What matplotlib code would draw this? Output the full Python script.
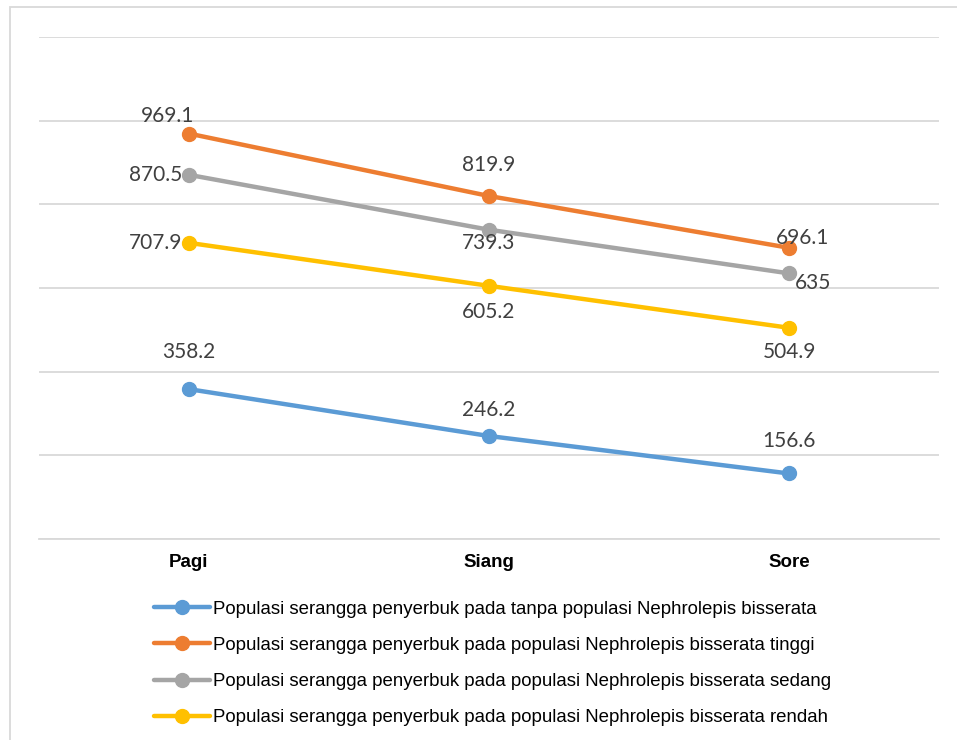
import matplotlib.pyplot as plt
from matplotlib.patches import Rectangle

# Waktu pengamatan
waktu = ['Pagi', 'Siang', 'Sore']

# Populasi serangga penyerbuk untuk tiap kondisi Nephrolepis bisserata
tanpa = [358.2, 246.2, 156.6]
tinggi = [969.1, 819.9, 696.1]
sedang = [870.5, 739.3, 635]
rendah = [707.9, 605.2, 504.9]

labels = [
    'Populasi serangga penyerbuk pada tanpa populasi Nephrolepis bisserata',
    'Populasi serangga penyerbuk pada populasi Nephrolepis bisserata tinggi',
    'Populasi serangga penyerbuk pada populasi Nephrolepis bisserata sedang',
    'Populasi serangga penyerbuk pada populasi Nephrolepis bisserata rendah',
]
warna = ['#5B9BD5', '#ED7D31', '#A5A5A5', '#FFC000']

# posisi label nilai (dx, dy dalam piksel, perataan horizontal)
posisi_label = [
    [(0, 37, 'center'), (0, 26, 'center'), (0, 32, 'center')],
    [(-21, 18, 'center'), (0, 31, 'center'), (14, 10, 'center')],
    [(-7, 0, 'right'), (0, -13, 'center'), (24, -10, 'center')],
    [(-7, 0, 'right'), (0, -26, 'center'), (0, -24, 'center')],
]

fig = plt.figure(figsize=(9.57, 7.4), dpi=100)
ax = fig.add_axes([39 / 957, 1 - 539 / 740, 900 / 957, 502 / 740])

x = range(len(waktu))
for data, lab, c, pos in zip([tanpa, tinggi, sedang, rendah], labels, warna, posisi_label):
    ax.plot(x, data, color=c, lw=3.2, marker='o', ms=10, label=lab,
            solid_capstyle='round', zorder=3)
    for xi, yi, (dx, dy, ha) in zip(x, data, pos):
        ax.annotate(f'{yi:g}', (xi, yi), xytext=(dx, dy), textcoords='offset pixels',
                    ha=ha, va='center', fontsize=15, color='#404040',
                    family=['Lato', 'DejaVu Sans'], zorder=4)

ax.set_xlim(-0.5, 2.5)
ax.set_ylim(0, 1200)
ax.set_yticks(range(0, 1201, 200))
ax.set_yticklabels([])
ax.tick_params(axis='y', length=0)
ax.tick_params(axis='x', length=0, pad=11)
ax.set_xticks(list(x))
ax.set_xticklabels(waktu, fontsize=13.5, fontweight='bold', family='Liberation Sans')
ax.grid(axis='y', color='#D9D9D9', lw=1.3)
ax.set_axisbelow(True)
for s in ['top', 'right', 'left']:
    ax.spines[s].set_visible(False)
ax.spines['bottom'].set_color('#D9D9D9')
ax.spines['bottom'].set_linewidth(1.3)

leg = ax.legend(loc='upper center', bbox_to_anchor=(0.504, -0.0896), ncol=1,
                frameon=False, handlelength=3.0, handletextpad=0.2,
                labelspacing=1.03, prop={'family': 'Liberation Sans', 'size': 13.4})

# bingkai area grafik
fig.patches.append(Rectangle((10 / 957, -0.1), 1.2, 1 - 7 / 740 + 0.1,
                             transform=fig.transFigure, fill=False,
                             edgecolor='#D9D9D9', lw=1.3))

fig.savefig('out.png', dpi=100, facecolor='white')
